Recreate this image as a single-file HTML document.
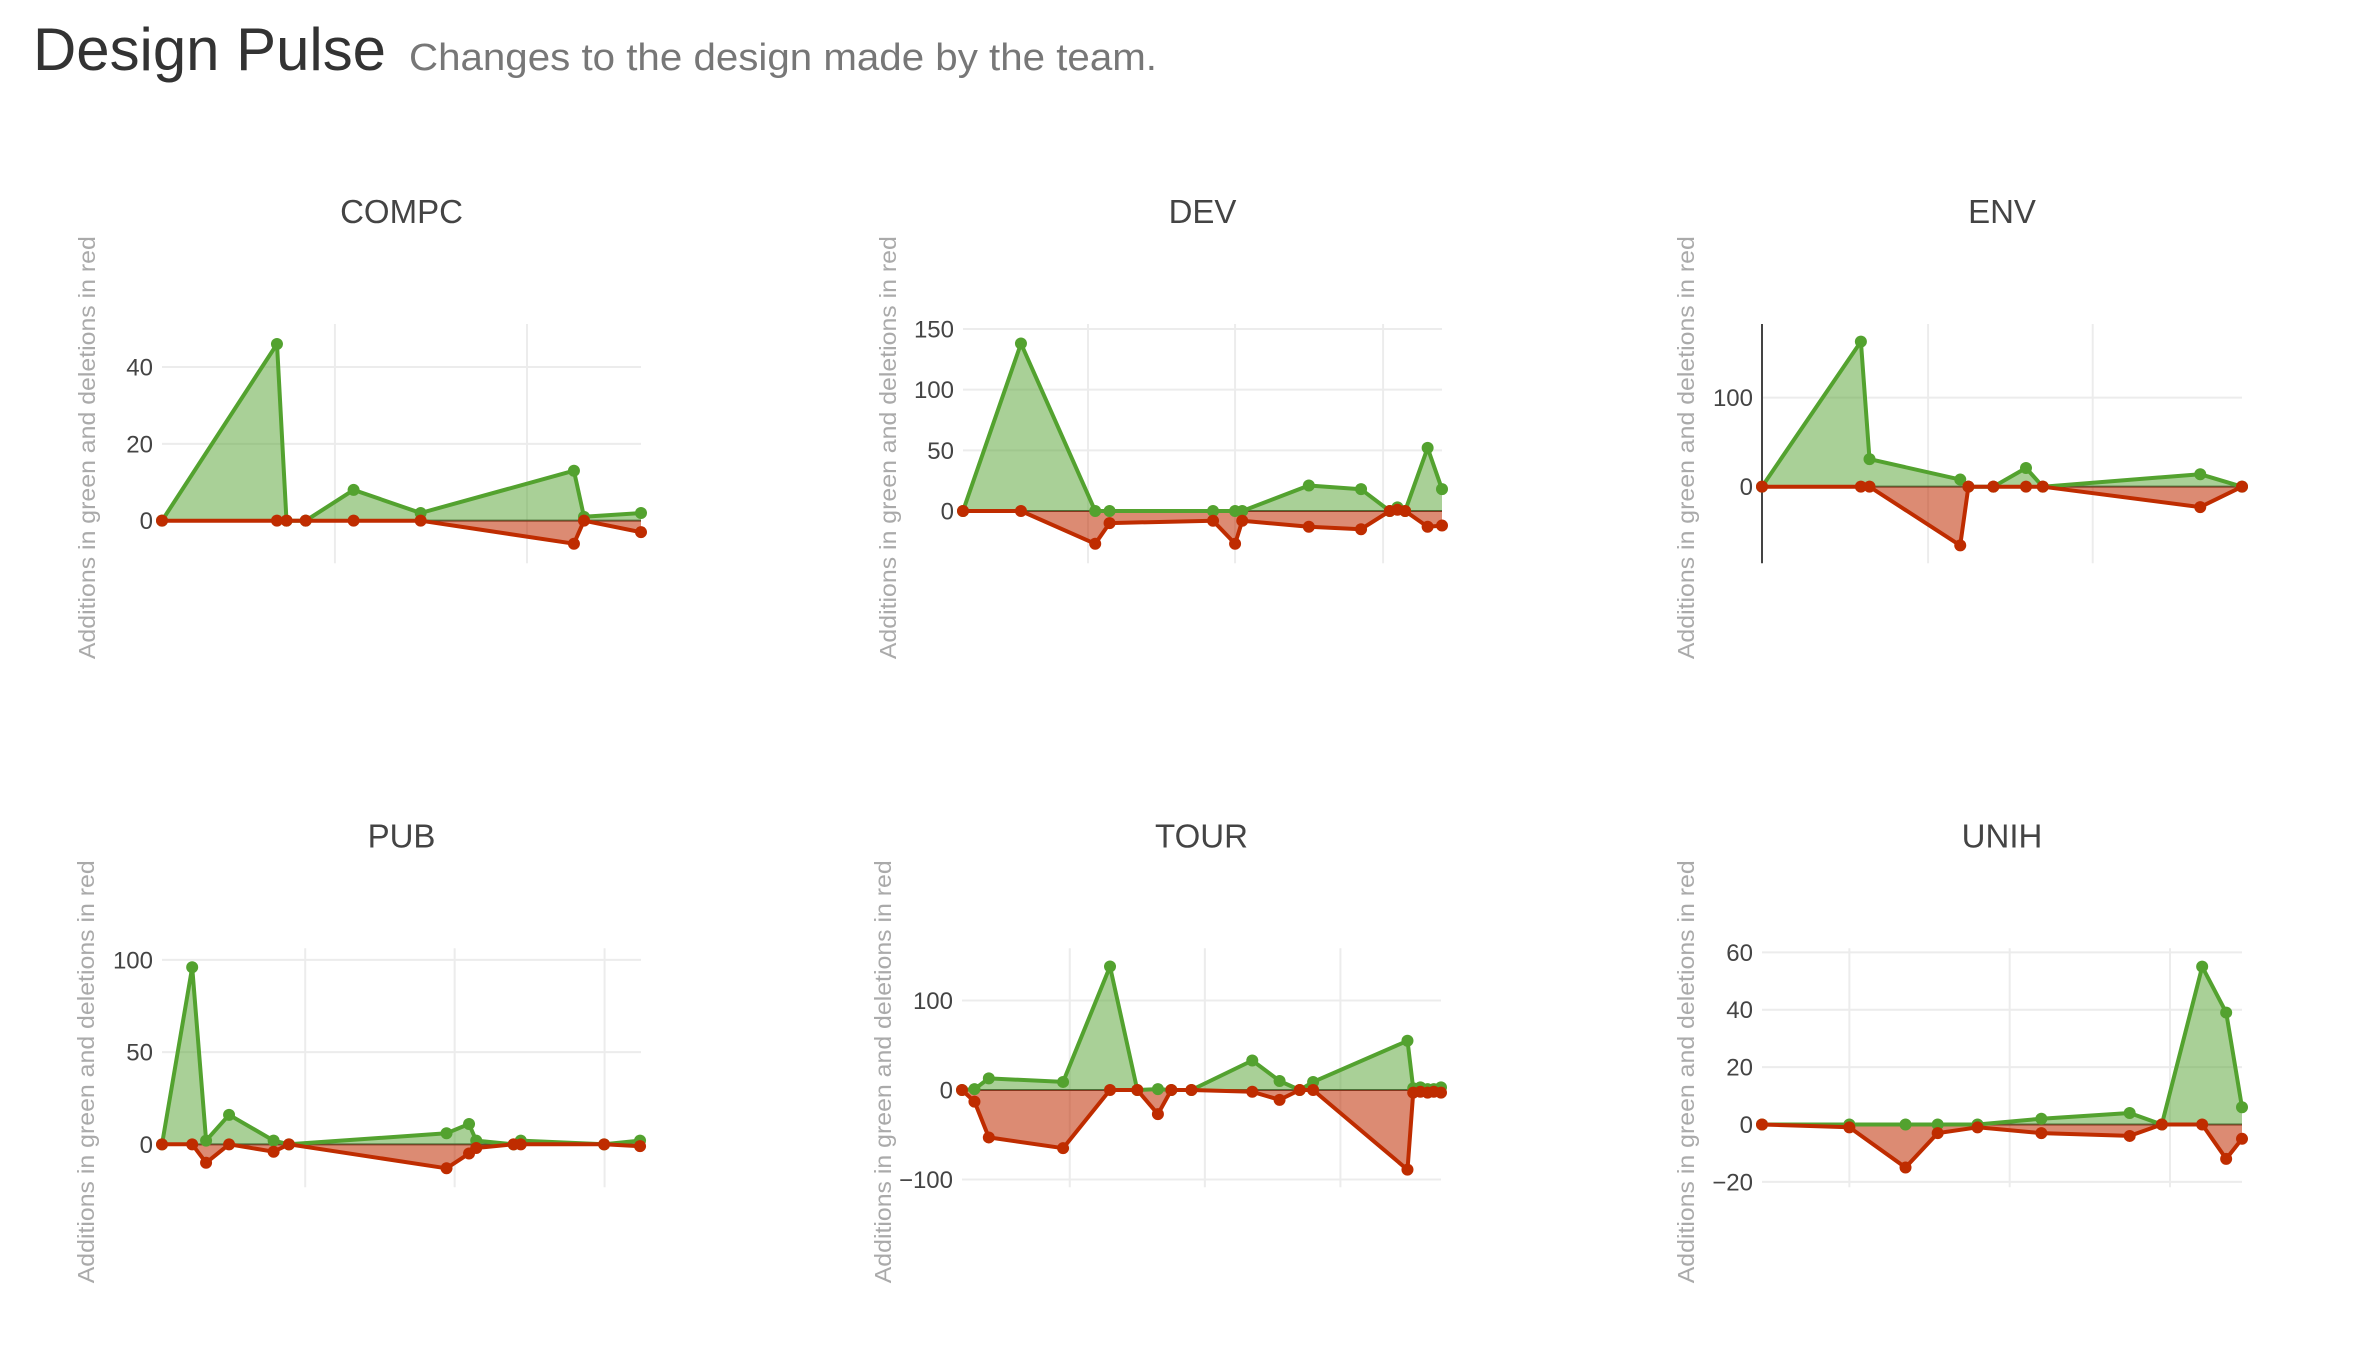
<!DOCTYPE html>
<html><head><meta charset="utf-8"><title>Design Pulse</title>
<style>
html,body{margin:0;padding:0;background:#fff;}
svg{display:block;}
</style></head>
<body>
<svg id="chart" xmlns="http://www.w3.org/2000/svg" width="2380" height="1354" viewBox="0 0 2380 1354">
  <text x="33" y="70" font-family="Liberation Sans, sans-serif" font-size="60" fill="#333" textLength="353" lengthAdjust="spacingAndGlyphs">Design Pulse</text>
  <text x="409" y="70" font-family="Liberation Sans, sans-serif" font-size="38" fill="#777" textLength="748" lengthAdjust="spacingAndGlyphs">Changes to the design made by the team.</text>
</svg>
<script>
// ---- data (x = position along the time axis, 0..100; values = line counts) ----
const compcX   = [0, 24.0, 26.0, 30.0, 40.0, 54.0, 86.0, 88.1, 100];
const compcAdd = [0, 46, 0, 0, 8, 2, 13, 1, 2];
const compcDel = [0, 0, 0, 0, 0, 0, -6, 0, -3];
const compcTicks = [0, 20, 40];
const compcVGrid = [36.1, 76.2];

const devX   = [0, 12.1, 27.6, 30.6, 52.2, 56.8, 58.3, 72.2, 83.1, 89.1, 90.7, 92.3, 97.0, 100];
const devAdd = [0, 138, 0, 0, 0, 0, 0, 21, 18, 0, 3, 0, 52, 18];
const devDel = [0, 0, -27, -10, -8, -27, -8, -13, -15, 0, 1, 0, -13, -12];
const devTicks = [0, 50, 100, 150];
const devVGrid = [26.1, 56.8, 87.7];

const envX   = [0, 20.6, 22.4, 41.3, 43.0, 48.2, 55.0, 58.5, 91.3, 100];
const envAdd = [0, 163, 31, 8, 0, 0, 21, 0, 14, 0];
const envDel = [0, 0, 0, -66, 0, 0, 0, 0, -23, 0];
const envTicks = [0, 100];
const envVGrid = [34.6, 68.9];

const pubX   = [0, 6.3, 9.2, 14.0, 23.3, 26.5, 59.4, 64.1, 65.6, 73.4, 74.9, 92.3, 99.8];
const pubAdd = [0, 96, 2, 16, 2, 0, 6, 11, 2, 0, 2, 0, 2];
const pubDel = [0, 0, -10, 0, -4, 0, -13, -5, -2, 0, 0, 0, -1];
const pubTicks = [0, 50, 100];
const pubVGrid = [29.9, 61.1, 92.4];

const tourX   = [0, 2.6, 5.6, 21.1, 30.9, 36.6, 40.9, 43.7, 47.9, 60.6, 66.3, 70.5, 73.3, 93.0, 94.2, 95.7, 97.2, 98.5, 100];
const tourAdd = [0, 1, 13, 9, 138, 0, 1, 0, 0, 33, 10, 0, 9, 55, 2, 3, 1, 1, 3];
const tourDel = [0, -13, -53, -65, 0, 0, -27, 0, 0, -2, -11, 0, 0, -89, -3, -2, -3, -2, -3];
const tourTicks = [-100, 0, 100];
const tourVGrid = [22.5, 50.7, 79.0];

const unihX   = [0, 18.2, 29.9, 36.6, 44.9, 58.2, 76.6, 83.3, 91.7, 96.7, 100];
const unihAdd = [0, 0, 0, 0, 0, 2, 4, 0, 55, 39, 6];
const unihDel = [0, -1, -15, -3, -1, -3, -4, 0, 0, -12, -5];
const unihTicks = [-20, 0, 20, 40, 60];
const unihVGrid = [18.2, 51.6, 85.0];

// ---- layout (pixel geometry, not data) ----
const NS = 'http://www.w3.org/2000/svg';
const svg = document.getElementById('chart');
const panels = [
  {name:'compc', title:'COMPC', x:compcX, add:compcAdd, del:compcDel, ticks:compcTicks, vgrid:compcVGrid, left:162, right:641, top:324, bottom:563.3, ymin:-11.1, ymax:51.2, ytx:87, yAxisLine:false},
  {name:'dev', title:'DEV', x:devX, add:devAdd, del:devDel, ticks:devTicks, vgrid:devVGrid, left:963, right:1442, top:324, bottom:563.3, ymin:-43.1, ymax:154.1, ytx:888, yAxisLine:false},
  {name:'env', title:'ENV', x:envX, add:envAdd, del:envDel, ticks:envTicks, vgrid:envVGrid, left:1762, right:2242, top:324, bottom:563.3, ymin:-86.1, ymax:182.8, ytx:1686, yAxisLine:true},
  {name:'pub', title:'PUB', x:pubX, add:pubAdd, del:pubDel, ticks:pubTicks, vgrid:pubVGrid, left:162, right:641, top:948.3, bottom:1187.3, ymin:-23.3, ymax:106.3, ytx:86, yAxisLine:false},
  {name:'tour', title:'TOUR', x:tourX, add:tourAdd, del:tourDel, ticks:tourTicks, vgrid:tourVGrid, left:962, right:1441, top:948.3, bottom:1187.3, ymin:-108.7, ymax:158.3, ytx:883, yAxisLine:false},
  {name:'unih', title:'UNIH', x:unihX, add:unihAdd, del:unihDel, ticks:unihTicks, vgrid:unihVGrid, left:1762, right:2242, top:948.3, bottom:1187.3, ymin:-21.9, ymax:61.4, ytx:1686, yAxisLine:false}
];

function mk(tag, attrs, parent){
  const el = document.createElementNS(NS, tag);
  for (const k in attrs) el.setAttribute(k, attrs[k]);
  parent.appendChild(el);
  return el;
}

panels.forEach(p => {
  const g = mk('g', {}, svg);
  
  
  const xs = v => p.left + v / 100 * (p.right - p.left);
  const ys = v => p.bottom - (v - p.ymin) / (p.ymax - p.ymin) * (p.bottom - p.top);
  const cx = (p.left + p.right) / 2;

  const t = mk('text', {x:cx, y:(p.top - 101), 'text-anchor':'middle', 'font-family':'Liberation Sans, sans-serif', 'font-size':'33', fill:'#444'}, g);
  t.textContent = p.title;
  
  

  const cy = (p.top + p.bottom) / 2 + 4;
  const yt = mk('text', {x:p.ytx, y:cy, transform:'rotate(-90 ' + p.ytx + ' ' + cy + ')', 'text-anchor':'middle', 'dominant-baseline':'central', 'font-family':'Liberation Sans, sans-serif', 'font-size':'23', fill:'#aaa', textLength:'423', lengthAdjust:'spacingAndGlyphs'}, g);
  yt.textContent = 'Additions in green and deletions in red';
  
  

  p.vgrid.forEach(v => {
    const l = mk('line', {x1:xs(v), x2:xs(v), y1:p.top, y2:p.bottom, stroke:'#ececec', 'stroke-width':'2'}, g);
    
    
  });
  p.ticks.forEach(v => {
    if (v !== 0) {
      const l = mk('line', {x1:p.left, x2:p.right, y1:ys(v), y2:ys(v), stroke:'#ececec', 'stroke-width':'2'}, g);
      
      
    }
    const tl = mk('text', {x:p.left - 9, y:ys(v) + 8.5, 'text-anchor':'end', 'font-family':'Liberation Sans, sans-serif', 'font-size':'24', fill:'#444'}, g);
    tl.textContent = v < 0 ? '\u2212' + Math.abs(v) : String(v);
    
    
  });
  const zl = mk('line', {x1:p.left, x2:p.right, y1:ys(0), y2:ys(0), stroke:'#444', 'stroke-width':'2'}, g);
  
  
  if (p.yAxisLine) {
    const al = mk('line', {x1:p.left, x2:p.left, y1:p.top, y2:p.bottom, stroke:'#444', 'stroke-width':'2'}, g);
    
    
  }

  const series = [
    {key:'additions', vals:p.add, line:'#53a22f', fill:'rgba(83,162,47,0.5)'},
    {key:'deletions', vals:p.del, line:'#bf2c00', fill:'rgba(191,44,0,0.55)'}
  ];
  series.forEach(s => {
    const pts = p.x.map((xv, i) => xs(xv).toFixed(1) + ',' + ys(s.vals[i]).toFixed(1));
    const area = mk('polygon', {points: xs(p.x[0]).toFixed(1) + ',' + ys(0) + ' ' + pts.join(' ') + ' ' + xs(p.x[p.x.length-1]).toFixed(1) + ',' + ys(0), fill:s.fill, stroke:'none'}, g);
    
    
  });
  series.forEach(s => {
    const pts = p.x.map((xv, i) => xs(xv).toFixed(1) + ',' + ys(s.vals[i]).toFixed(1));
    const line = mk('polyline', {points: pts.join(' '), fill:'none', stroke:s.line, 'stroke-width':'4', 'stroke-linejoin':'round'}, g);
    
    
    p.x.forEach((xv, i) => {
      const c = mk('circle', {cx:xs(xv), cy:ys(s.vals[i]), r:'6', fill:s.line}, g);
      
      
    });
  });
});
</script>
</body></html>
